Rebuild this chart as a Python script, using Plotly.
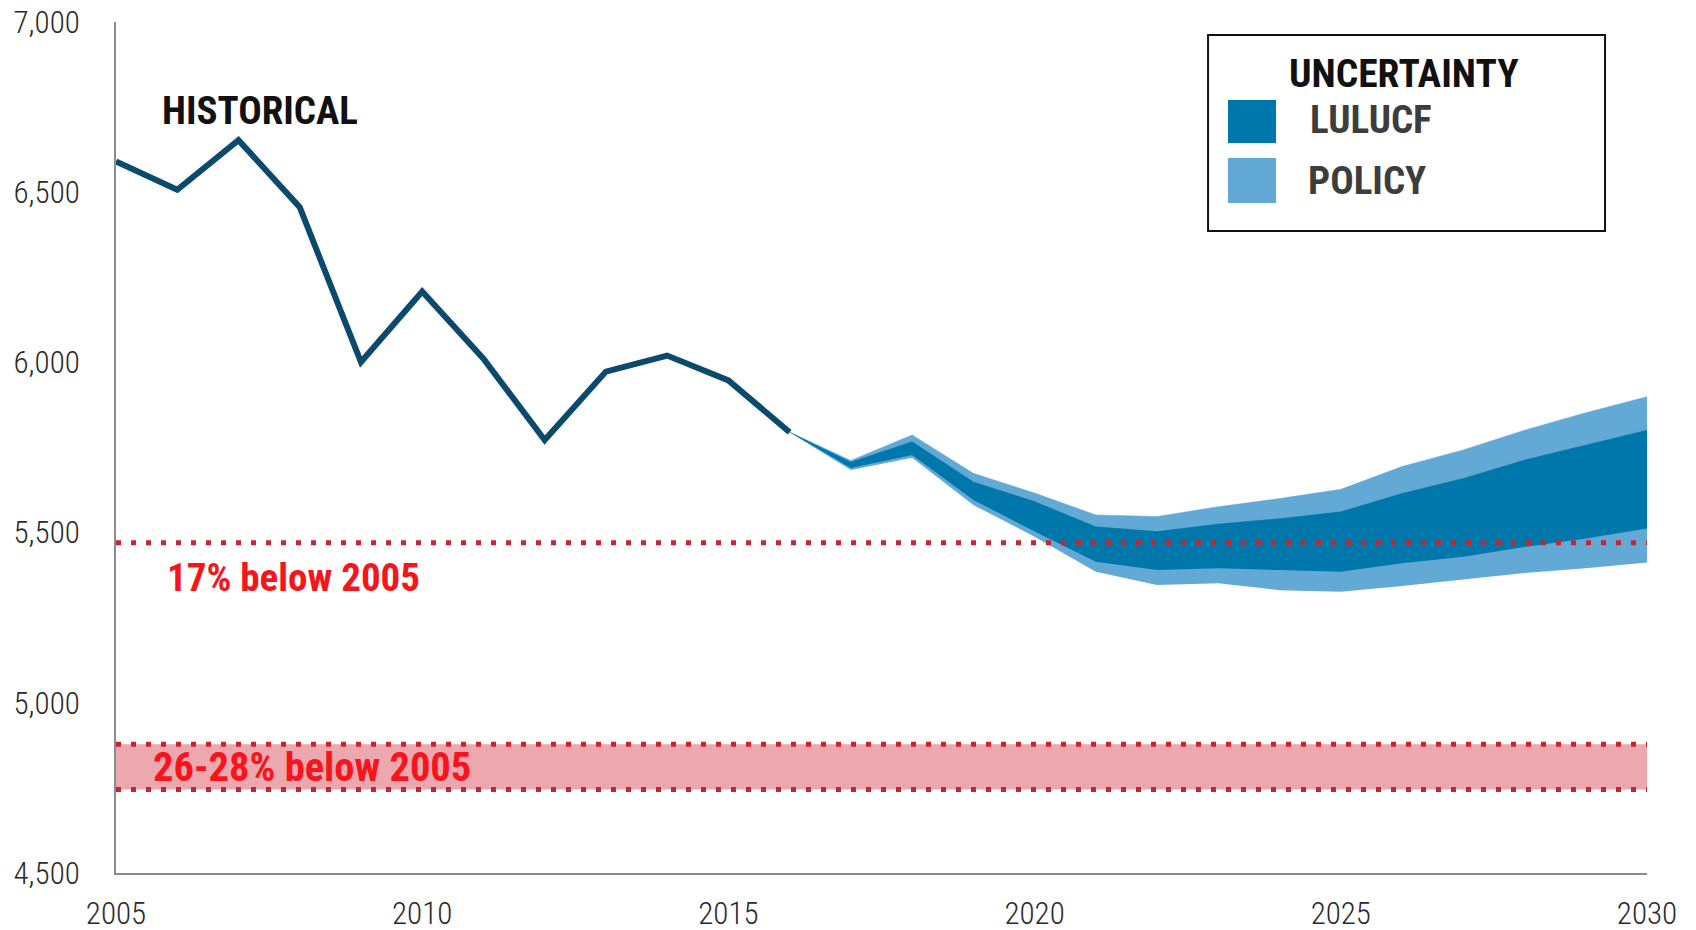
import plotly.graph_objects as go

# ---------------- data ----------------
hist_years = [2005, 2006, 2007, 2008, 2009, 2010, 2011, 2012, 2013, 2014, 2015, 2016]
hist_values = [6590, 6507, 6653, 6456, 6001, 6208, 6011, 5772, 5973, 6020, 5947, 5795]

proj_years = [2016, 2017, 2018, 2019, 2020, 2021, 2022, 2023, 2024, 2025, 2026, 2027, 2028, 2029, 2030]
policy_high = [5795, 5712, 5787, 5674, 5616, 5552, 5547, 5576, 5600, 5627, 5694, 5743, 5801, 5852, 5899]
lulucf_high = [5795, 5707, 5767, 5649, 5591, 5517, 5503, 5525, 5541, 5561, 5615, 5659, 5713, 5757, 5801]
lulucf_low = [5795, 5690, 5728, 5596, 5503, 5414, 5390, 5395, 5390, 5385, 5410, 5429, 5458, 5483, 5512]
policy_low = [5795, 5684, 5720, 5581, 5488, 5385, 5346, 5351, 5331, 5326, 5343, 5361, 5381, 5395, 5412]

target_years = [2005, 2030]
target_17 = [5470, 5470]
target_26 = [4878, 4878]
target_28 = [4745, 4745]

x_ticks = [2005, 2010, 2015, 2020, 2025, 2030]
y_ticks = [4500, 5000, 5500, 6000, 6500, 7000]

# ---------------- styles ----------------
NAVY = "#0b4a6c"
DARK = "#0077ab"
LIGHT = "#63a9d5"
RED_DOT = "#c9252e"
PINK = "rgba(226,120,132,0.65)"
RED_TXT = "#f7141b"
COND = "Roboto Condensed, Barlow Condensed, Liberation Sans Narrow, sans-serif"

fig = go.Figure()

# pink target band 26-28%
fig.add_trace(go.Scatter(x=target_years, y=target_28, mode="lines",
                         line=dict(width=0), hoverinfo="skip", showlegend=False))
fig.add_trace(go.Scatter(x=target_years, y=target_26, mode="lines", fill="tonexty",
                         fillcolor=PINK, line=dict(width=0), hoverinfo="skip", showlegend=False))

# policy uncertainty band (light)
fig.add_trace(go.Scatter(x=proj_years, y=policy_low, mode="lines",
                         line=dict(width=0), hoverinfo="skip", showlegend=False))
fig.add_trace(go.Scatter(x=proj_years, y=policy_high, mode="lines", fill="tonexty",
                         fillcolor=LIGHT, line=dict(width=0.5, color=LIGHT),
                         hoverinfo="skip", showlegend=False))
# LULUCF uncertainty band (dark)
fig.add_trace(go.Scatter(x=proj_years, y=lulucf_low, mode="lines",
                         line=dict(width=0), hoverinfo="skip", showlegend=False))
fig.add_trace(go.Scatter(x=proj_years, y=lulucf_high, mode="lines", fill="tonexty",
                         fillcolor=DARK, line=dict(width=0.5, color=DARK),
                         hoverinfo="skip", showlegend=False))

# dotted target lines
for yv in (target_17, target_26, target_28):
    fig.add_trace(go.Scatter(x=target_years, y=yv, mode="lines",
                             line=dict(color=RED_DOT, width=5, dash="5px,10px"),
                             hoverinfo="skip", showlegend=False))

# historical line
fig.add_trace(go.Scatter(x=hist_years, y=hist_values, mode="lines",
                         line=dict(color=NAVY, width=6), showlegend=False))

# ---------------- annotations ----------------
def bold(size, color):
    return dict(family=COND, size=size, color=color, weight=700)

ann = [
    dict(text="HISTORICAL", xref="paper", yref="paper", x=0.0941, y=0.8954,
         xanchor="center", yanchor="middle", showarrow=False, font=bold(39, "#111111")),
    dict(text="17% below 2005", xref="x", yref="y", x=2007.9, y=5367,
         xanchor="center", yanchor="middle", showarrow=False, font=bold(39, RED_TXT)),
    dict(text="26-28% below 2005", xref="x", yref="y", x=2008.2, y=4812,
         xanchor="center", yanchor="middle", showarrow=False, font=bold(40.5, RED_TXT)),
    # legend
    dict(text="UNCERTAINTY", xref="paper", yref="paper", x=0.8413, y=0.9389,
         xanchor="center", yanchor="middle", showarrow=False, font=bold(39.5, "#111111")),
    dict(text="LULUCF", xref="paper", yref="paper", x=0.7786, y=0.8848,
         xanchor="left", yanchor="middle", showarrow=False, font=bold(39, "#3d3d3d")),
    dict(text="POLICY", xref="paper", yref="paper", x=0.7773, y=0.8126,
         xanchor="left", yanchor="middle", showarrow=False, font=bold(39, "#3d3d3d")),
]

shapes = [
    dict(type="rect", xref="paper", yref="paper", x0=0.7133, x1=0.9726, y0=0.7544, y1=0.9847,
         line=dict(color="#111111", width=2), fillcolor="white", layer="above"),
    dict(type="rect", xref="paper", yref="paper", x0=0.7263, x1=0.7577, y0=0.8578, y1=0.9083,
         line=dict(width=0), fillcolor=DARK, layer="above"),
    dict(type="rect", xref="paper", yref="paper", x0=0.7263, x1=0.7577, y0=0.7873, y1=0.8402,
         line=dict(width=0), fillcolor=LIGHT, layer="above"),
]

# page body has an 8px default margin, so the plot area is placed with that offset in mind
fig.update_layout(
    width=1696, height=930,
    margin=dict(l=108, r=57, t=14, b=65),
    paper_bgcolor="white", plot_bgcolor="white",
    annotations=ann, shapes=shapes,
    showlegend=False,
)
fig.update_xaxes(range=[2005, 2030], tickvals=x_ticks, ticktext=[str(v) for v in x_ticks],
                 showgrid=False, zeroline=False, showline=True, linecolor="#8c8c8c", linewidth=2,
                 ticks="", ticklabelstandoff=12, automargin=False, ticklabeloverflow="allow",
                 tickfont=dict(family=COND, size=31, color="#2a2a2a", weight=300))
fig.update_yaxes(range=[4500, 7000], tickvals=y_ticks, tickformat=",",
                 showgrid=False, zeroline=False, showline=True, linecolor="#8c8c8c", linewidth=2,
                 ticks="", ticklabelstandoff=28, automargin=False, ticklabeloverflow="allow",
                 tickfont=dict(family=COND, size=31, color="#2a2a2a", weight=300))

fig.write_html("out.html")
